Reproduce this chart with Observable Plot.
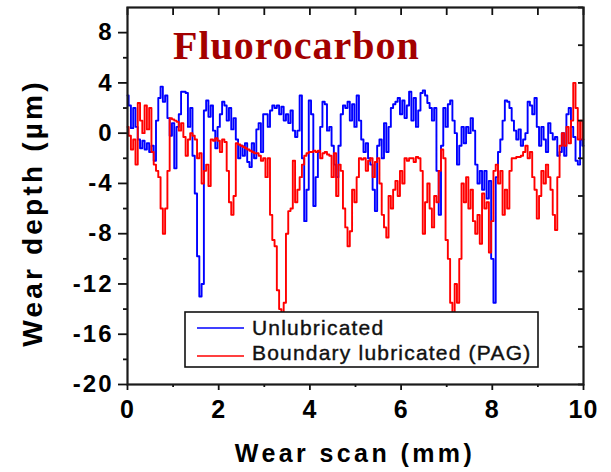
<!DOCTYPE html>
<html>
<head>
<meta charset="utf-8">
<script src="https://cdn.jsdelivr.net/npm/d3@7"></script>
<script src="https://cdn.jsdelivr.net/npm/@observablehq/plot@0.6"></script>
<style>
  html, body { margin: 0; padding: 0; background: #fff; }
  #chart { width: 611px; height: 472px; }
</style>
</head>
<body>
<div id="chart"></div>
<script>
// ---- data ----
const chartTitle = "Fluorocarbon";
const xLabel = "Wear scan (mm)";
const yLabel = "Wear depth (µm)";
const seriesNames = ["Unlubricated", "Boundary lubricated (PAG)"];
const seriesColors = ["#0000ff", "#ff0000"];
const scanStep = 0.05; // mm between samples
const xMajorTicks = [0, 2, 4, 6, 8, 10];
const xMinorTicks = [1, 3, 5, 7, 9];
const xTopTicks = [0, 1, 2, 3, 4, 5, 6, 7, 8, 9, 10];
const yMajorTicks = [-20, -16, -12, -8, -4, 0, 4, 8];
const yMinorTicks = [-18, -14, -10, -6, -2, 2, 6];
const yRightTicks = [-20, -17, -14, -11, -8, -5, -2, 1, 4, 7, 10];

const unlubricated = [
  3.0, 2.2, 0.4, 2.0, 0.5, -0.5, -1.2, -0.6, -1.3, -0.8,
  -1.5, -1.0, -2.2, 1.0, 2.8, 3.7, 2.5, 3.0, 1.2, -0.2,
  0.8, -2.8, 0.5, 1.5, 3.3, 3.3, 3.2, 0.5, 2.0, -1.8,
  -4.8, -9.8, -13.0, -12.0, 1.8, 2.6, 1.3, 2.2, 0.2, -1.2,
  0.5, 1.5, 2.5, 2.2, 1.0, 2.0, 0.3, 1.2, -0.5, -2.0,
  -1.0, -1.8, -0.8, -2.3, -2.7, -0.8, -2.0, 0.3, 0.8, -1.5,
  1.5, 1.5, 0.5, 1.8, 2.2, 2.0, 2.2, 1.5, 2.1, 1.0,
  1.5, 0.8, 1.8, 0.2, -0.3, 0.2, 3.0, -2.0, -7.0, -4.5,
  2.6, 1.5, -5.8, -3.5, -1.5, 0.5, 2.5, 2.3, 0.2, 0.5,
  -1.0, -2.5, -3.5, -1.0, 1.5, 2.2, 2.0, 2.5, 1.0, 2.3,
  0.5, 3.0, 1.0, -0.5, -1.5, -0.8, -2.0, -2.5, -4.5, -6.2,
  -1.0, -0.5, -2.0, 0.8, -1.5, 0.5, 2.0, 2.3, 2.5, 2.8,
  1.5, 2.6, 1.2, 2.2, 3.3, 1.0, 2.8, 0.5, 1.8, 3.2,
  3.4, 3.0, 2.4, 2.0, 1.0, 2.0, -3.0, -6.5, -1.0, 2.0,
  0.5, 2.3, 2.6, 1.0, 0.0, -2.5, -1.0, 0.5, -0.8, 0.5,
  0.0, 1.2, 0.2, -2.5, -4.0, -3.0, -4.5, -3.0, -5.2, -3.8,
  -10.0, -13.5, -3.5, -1.5, -0.5, 1.0, 2.6, 2.5, 2.0, 1.0,
  0.2, -0.5, 0.3, -1.0, -0.5, 0.0, 2.5, 2.2, 1.5, 2.8,
  0.5, -1.0, 0.5, -0.5, -1.5, 0.8, 0.0, -0.5, -0.3, -1.8,
  -1.5, 0.0, -1.8, 1.5, 2.0, 0.5, -0.3, -2.2, -2.5, -0.5,
  -1.0
];

const boundaryPAG = [
  0.5, -0.2, -1.3, -0.5, -2.5, 2.4, 1.0, 0.0, 2.2, 0.3,
  2.0, -1.5, -2.5, -3.0, -3.5, -6.0, -8.0, -6.0, -3.0, 1.2,
  1.1, 1.0, 0.9, 0.2, 0.8, -0.3, -1.8, -0.5, 0.0, -0.2,
  -0.5, -2.0, -1.6, -4.0, -3.0, -2.5, -4.2, -0.5, -0.6, -0.4,
  -0.6, -1.5, -0.5, -0.7, -3.0, -5.5, -6.5, -5.0, -0.8, -0.9,
  -1.0, -1.1, -1.2, -1.3, -1.4, -1.5, -1.6, -1.6, -1.8, -2.2,
  -2.0, -3.5, -2.0, -6.5, -8.5, -9.0, -12.5, -14.0, -14.5, -13.5,
  -8.0, -6.2, -6.0, -2.2, -5.5, -4.5, -3.5, -2.5, -1.8, -1.6,
  -1.5, -1.5, -1.4, -1.5, -1.4, -2.0, -1.6, -1.5, -1.7, -1.8,
  -3.5, -1.6, -5.0, -2.5, -3.0, -6.0, -7.5, -9.0, -7.8, -4.5,
  -5.5, -3.5, -2.0, -2.1, -2.0, -3.0, -2.2, -2.0, -3.5, -2.3,
  -2.0, -4.0, -6.5, -7.5, -8.3, -5.0, -6.0, -4.5, -3.8, -5.0,
  -3.0, -4.0, -2.0, -2.2, -2.0, -2.0, -2.3, -1.9, -2.0, -3.0,
  -8.0, -5.5, -4.0, -6.0, -7.5, -5.0, -5.5, -3.0, -1.3, -2.0,
  -8.5, -10.0, -13.5, -14.5, -12.0, -13.5, -10.0, -4.0, -5.5, -3.5,
  -6.0, -4.5, -7.0, -8.0, -6.5, -8.8, -4.8, -6.0, -5.5, -9.5,
  -7.0, -3.0, -2.5, -4.0, -3.0, -6.5, -4.5, -6.0, -3.0, -2.0,
  -2.0, -1.9, -1.9, -1.8, -1.5, -1.0, -2.0, -1.5, -3.5, -4.5,
  -6.8, -5.0, -3.0, -4.0, -2.5, -3.5, -4.5, -6.5, -7.7, -3.5,
  -1.0, 0.0, -1.0, 0.5, -0.8, 1.0, 4.0, 2.0, -0.5, 1.0,
  -0.5
];

// ---- layout ----
const W = 611, H = 472;
const mLeft = 127, mRight = 28, mTop = 7, mBottom = 88;
const innerW = W - mLeft - mRight;
const innerH = H - mTop - mBottom;

const toRows = (vals, name) => vals.map((v, i) => ({x: +(i * scanStep).toFixed(3), y: v, series: name}));
const rows = [
  ...toRows(unlubricated, seriesNames[0]),
  ...toRows(boundaryPAG, seriesNames[1])
];

const font = "'Liberation Sans', Arial, Helvetica, sans-serif";

const plot = Plot.plot({
  width: W,
  height: H,
  marginLeft: mLeft,
  marginRight: mRight,
  marginTop: mTop,
  marginBottom: mBottom,
  style: {fontFamily: font, background: "#fff", overflow: "visible"},
  x: {domain: [0, 10], label: null},
  y: {domain: [-20, 10], label: null},
  color: {domain: seriesNames, range: seriesColors},
  marks: [
    Plot.line(rows.filter(d => d.series === seriesNames[0]), {x: "x", y: "y", stroke: seriesColors[0], strokeWidth: 1.9, curve: "step"}),
    Plot.line(rows.filter(d => d.series === seriesNames[1]), {x: "x", y: "y", stroke: seriesColors[1], strokeWidth: 1.9, curve: "step"}),
    // left axis
    Plot.axisY({ticks: yMajorTicks, tickSize: 9, tickPadding: 5, tickFormat: d => String(d), fontSize: 24, fontWeight: "bold", stroke: "#111", strokeWidth: 1.8, fill: "#000", label: null}),
    Plot.axisY({ticks: yMinorTicks, tickSize: 4, tickFormat: () => "", stroke: "#111", strokeWidth: 1.8, label: null}),
    // bottom axis
    Plot.axisX({ticks: xMajorTicks, tickSize: 6, tickPadding: 10, tickFormat: d => String(d), fontSize: 25, fontWeight: "bold", stroke: "#111", strokeWidth: 1.8, fill: "#000", label: null}),
    Plot.axisX({ticks: xMinorTicks, tickSize: 3, tickFormat: () => "", stroke: "#111", strokeWidth: 1.8, label: null}),
    // inward ticks on top and right
    Plot.tickX(xTopTicks, {x: d => d, insetBottom: innerH - 8, stroke: "#111", strokeWidth: 1.8}),
    Plot.tickY(yRightTicks, {y: d => d, insetLeft: innerW - 5, stroke: "#111", strokeWidth: 1.8}),
    Plot.frame({stroke: "#1a1a1a", strokeWidth: 2.2})
  ]
});

document.getElementById("chart").appendChild(plot);

const svg = d3.select(plot);
svg.selectAll('g[aria-label="y-axis tick label"] text').attr("letter-spacing", "2px");
svg.selectAll('g[aria-label="x-axis tick label"] text').attr("letter-spacing", "1px");

// title
svg.append("text")
  .attr("x", 173).attr("y", 59)
  .attr("text-anchor", "start")
  .attr("font-family", "'Liberation Serif', 'Times New Roman', serif")
  .attr("font-weight", "bold")
  .attr("font-size", 40)
  .attr("letter-spacing", "1px")
  .attr("fill", "#a30000")
  .text(chartTitle);

// x label
svg.append("text")
  .attr("x", mLeft + innerW / 2).attr("y", 462)
  .attr("text-anchor", "middle")
  .attr("font-family", font).attr("font-weight", "bold").attr("font-size", 25)
  .attr("letter-spacing", "3.4px")
  .attr("fill", "#000")
  .text(xLabel);

// y label
svg.append("text")
  .attr("transform", "translate(42,213) rotate(-90)")
  .attr("text-anchor", "middle")
  .attr("font-family", font).attr("font-weight", "bold").attr("font-size", 28)
  .attr("letter-spacing", "3.2px")
  .attr("fill", "#000")
  .text(yLabel);

// legend
const lg = svg.append("g").attr("class", "legend");
lg.append("rect")
  .attr("x", 185).attr("y", 312).attr("width", 353).attr("height", 55)
  .attr("fill", "#fff").attr("stroke", "#111").attr("stroke-width", 1.6);
seriesNames.forEach((name, i) => {
  const yy = 328 + i * 28;
  lg.append("line")
    .attr("x1", 197).attr("x2", 244).attr("y1", yy).attr("y2", yy)
    .attr("stroke", seriesColors[i]).attr("stroke-width", 1.6);
  lg.append("text")
    .attr("x", 252).attr("y", 335 + i * 25)
    .attr("text-anchor", "start")
    .attr("font-family", font).attr("font-size", 21)
    .attr("letter-spacing", "1.2px")
    .attr("fill", "#111")
    .attr("stroke", "#111").attr("stroke-width", 0.4)
    .text(name);
});
</script>
</body>
</html>
